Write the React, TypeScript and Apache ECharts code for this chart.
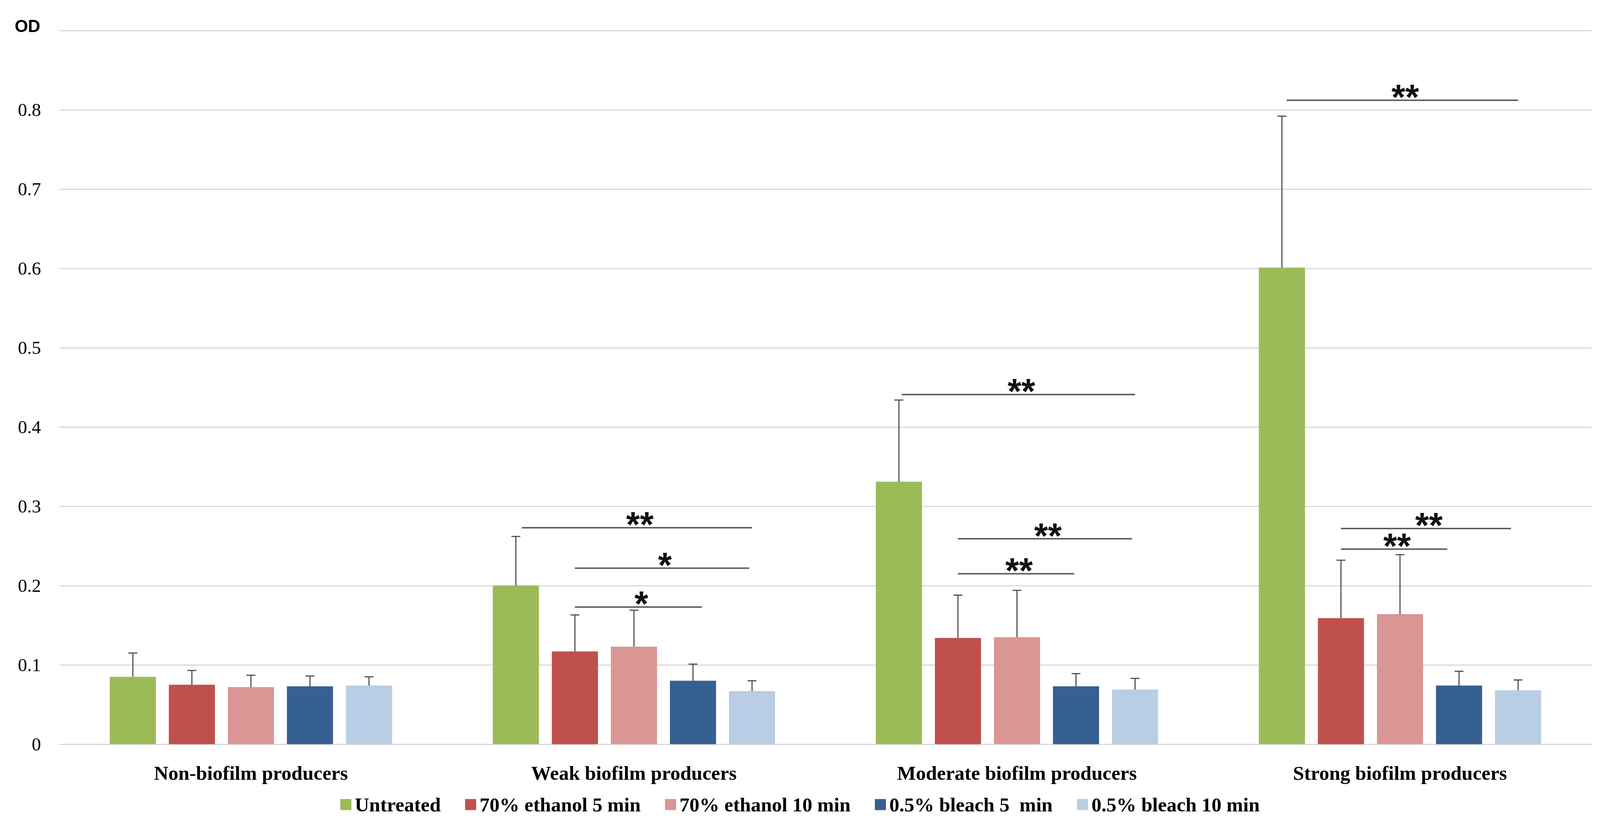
import React, { useEffect, useRef } from "react";
import * as echarts from "echarts";

// ---------- data ----------
const categories = [
  "Non-biofilm producers",
  "Weak biofilm producers",
  "Moderate biofilm producers",
  "Strong biofilm producers",
];
const seriesNames = [
  "Untreated",
  "70% ethanol 5 min",
  "70% ethanol 10 min",
  "0.5% bleach 5  min",
  "0.5% bleach 10 min",
];
const seriesColors = ["#9BBB59", "#C0504D", "#D99694", "#376092", "#B9CDE5"];

const untreated = [0.085, 0.2, 0.331, 0.601];
const ethanol5 = [0.075, 0.117, 0.134, 0.159];
const ethanol10 = [0.072, 0.123, 0.135, 0.164];
const bleach5 = [0.073, 0.08, 0.073, 0.074];
const bleach10 = [0.074, 0.067, 0.069, 0.068];

// upper ends of the error bars
const untreatedErrTop = [0.115, 0.262, 0.434, 0.792];
const ethanol5ErrTop = [0.093, 0.163, 0.188, 0.232];
const ethanol10ErrTop = [0.087, 0.169, 0.194, 0.239];
const bleach5ErrTop = [0.086, 0.101, 0.089, 0.092];
const bleach10ErrTop = [0.085, 0.08, 0.083, 0.081];

// significance brackets: category index, height, from/to bar position (0..4), label
const sigCategory = [1, 1, 1, 2, 2, 2, 3, 3, 3];
const sigValue = [0.273, 0.222, 0.173, 0.441, 0.259, 0.215, 0.812, 0.272, 0.246];
const sigFrom = [0.1, 1, 1, 0.05, 1, 1, 0.08, 1, 1];
const sigTo = [4, 3.95, 3.15, 4, 3.95, 2.97, 4, 3.88, 2.8];
const sigLabel = ["**", "*", "*", "**", "**", "**", "**", "**", "**"];

const yMin = 0;
const yMax = 0.9;
const yInterval = 0.1;

// ---------- layout (designed for 4336 x 2099) ----------
const REF_W = 4336;
const REF_H = 2099;

const values = [untreated, ethanol5, ethanol10, bleach5, bleach10];
const errTops = [untreatedErrTop, ethanol5ErrTop, ethanol10ErrTop, bleach5ErrTop, bleach10ErrTop];

export default function App() {
  const ref = useRef<HTMLDivElement>(null);

  useEffect(() => {
    if (!ref.current) return;
    const W = ref.current.clientWidth || REF_W;
    const H = ref.current.clientHeight || REF_H;
    const sx = W / REF_W;
    const sy = H / REF_H;
    const sf = Math.min(sx, sy);

    const BAR_WIDTH = 125 * sx;
    const BAR_GAP_PX = 35 * sx;
    const BAR_STEP = BAR_WIDTH + BAR_GAP_PX;

    const chart = echarts.init(ref.current, undefined, { renderer: "svg" });

    const barSeries = seriesNames.map((name, si) => ({
      name,
      type: "bar",
      data: values[si],
      barWidth: BAR_WIDTH,
      barGap: `${(BAR_GAP_PX / BAR_WIDTH) * 100}%`,
      itemStyle: { color: seriesColors[si] },
      z: 2,
    }));

    const errSeries = seriesNames.map((_, si) => ({
      type: "custom",
      silent: true,
      z: 4,
      data: categories.map((_c, ci) => [ci, values[si][ci], errTops[si][ci]]),
      encode: { x: 0, y: [1, 2] },
      renderItem: (params: any, api: any) => {
        const base = api.coord([api.value(0), api.value(1)]);
        const top = api.coord([api.value(0), api.value(2)]);
        const x = base[0] + (si - 2) * BAR_STEP;
        const cap = 12 * sx;
        return {
          type: "group",
          children: [
            {
              type: "line",
              shape: { x1: x, y1: base[1], x2: x, y2: top[1] },
              style: { stroke: "#4a4a4a", lineWidth: 3 * sf },
            },
            {
              type: "line",
              shape: { x1: x - cap, y1: top[1], x2: x + cap, y2: top[1] },
              style: { stroke: "#4a4a4a", lineWidth: 3 * sf },
            },
          ],
        };
      },
    }));

    const sigSeries = {
      type: "custom",
      silent: true,
      z: 5,
      data: sigCategory.map((c, i) => [c, sigValue[i], sigFrom[i], sigTo[i]]),
      encode: { x: 0, y: 1 },
      renderItem: (params: any, api: any) => {
        const p = api.coord([api.value(0), api.value(1)]);
        const x1 = p[0] + (api.value(2) - 2) * BAR_STEP;
        const x2 = p[0] + (api.value(3) - 2) * BAR_STEP;
        return {
          type: "group",
          children: [
            {
              type: "line",
              shape: { x1, y1: p[1], x2, y2: p[1] },
              style: { stroke: "#595959", lineWidth: 4 * sf },
            },
            {
              type: "text",
              x: (x1 + x2) / 2 + 8 * sx,
              y: p[1] - 8 * sy,
              style: {
                text: sigLabel[params.dataIndex],
                fill: "#111",
                fontSize: 96 * sf,
                fontWeight: "bold",
                fontFamily: "Liberation Sans",
                align: "center",
                verticalAlign: "middle",
              },
            },
          ],
        };
      },
    };

    chart.setOption({
      animation: false,
      backgroundColor: "#ffffff",
      grid: {
        left: 161 * sx,
        right: 23 * sx,
        top: 78 * sy,
        bottom: 194 * sy,
        containLabel: false,
      },
      legend: {
        data: seriesNames,
        top: 2034 * sy,
        left: "center",
        padding: 0,
        itemWidth: 30 * sf,
        itemHeight: 30 * sf,
        itemGap: 66 * sx,
        icon: "rect",
        textStyle: {
          fontFamily: "Liberation Serif",
          fontWeight: "bold",
          fontSize: 54 * sf,
          color: "#000",
          padding: [0, 0, 0, 4 * sf],
        },
      },
      xAxis: {
        type: "category",
        data: categories,
        axisLine: { show: true, lineStyle: { color: "#D9D9D9", width: 3 * sf } },
        axisTick: { show: false },
        axisLabel: {
          margin: 48 * sy,
          fontFamily: "Liberation Serif",
          fontWeight: "bold",
          fontSize: 54 * sf,
          color: "#000",
        },
      },
      yAxis: {
        type: "value",
        min: yMin,
        max: yMax,
        interval: yInterval,
        name: "OD",
        nameLocation: "end",
        nameGap: 11 * sy,
        nameTextStyle: {
          fontFamily: "Liberation Sans",
          fontWeight: "bold",
          fontSize: 46 * sf,
          color: "#000",
          align: "right",
          verticalAlign: "middle",
          padding: [0, 52 * sx, 0, 0],
        },
        axisLine: { show: false },
        axisTick: { show: false },
        splitLine: { lineStyle: { color: "#D9D9D9", width: 3 * sf } },
        axisLabel: {
          margin: 50 * sx,
          fontFamily: "Liberation Serif",
          fontSize: 50 * sf,
          color: "#000",
          formatter: (v: number) =>
            Math.abs(v - yMax) < 1e-9 ? "" : v === 0 ? "0" : v.toFixed(1),
        },
      },
      series: [...barSeries, ...errSeries, sigSeries],
    });

    return () => chart.dispose();
  }, []);

  return (
    <div
      ref={ref}
      style={{
        position: "fixed",
        left: 0,
        top: 0,
        width: "100vw",
        height: "100vh",
        background: "#fff",
      }}
    />
  );
}
